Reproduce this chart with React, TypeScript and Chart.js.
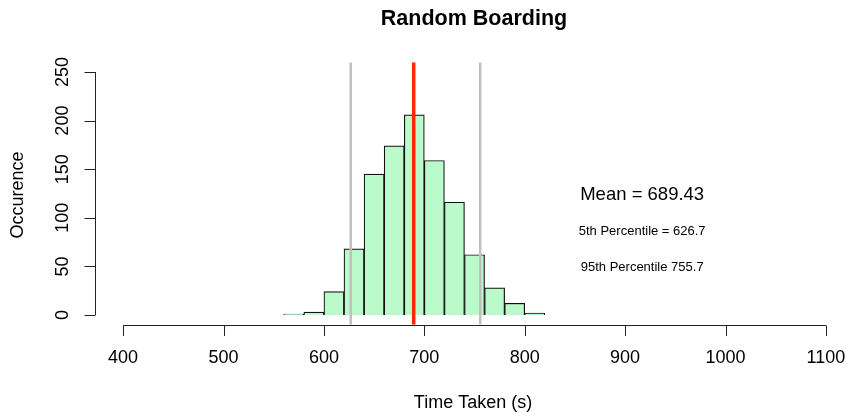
import React, { useEffect, useRef } from "react";
import { Chart, registerables } from "chart.js";

Chart.register(...registerables);

const binCenters = [570, 590, 610, 630, 650, 670, 690, 710, 730, 750, 770, 790, 810];
const binCounts = [1, 3, 24, 68, 145, 174, 206, 159, 116, 62, 28, 12, 2];
const xTicks = [400, 500, 600, 700, 800, 900, 1000, 1100];
const yTicks = [0, 50, 100, 150, 200, 250];
const meanValue = 689.43;
const p5Value = 626.7;
const p95Value = 755.7;
const titleText = "Random Boarding";
const xLabel = "Time Taken (s)";
const yLabel = "Occurence";
const notes = [
  { text: "Mean = 689.43", x: 917, y: 124, size: 18.5 },
  { text: "5th Percentile = 626.7", x: 917, y: 86, size: 13 },
  { text: "95th Percentile 755.7", x: 917, y: 49, size: 13 },
];

const FONT = "'Liberation Sans', Arial, Helvetica, sans-serif";

const rAxesPlugin = {
  id: "rAxes",
  afterDraw(chart: any) {
    const ctx = chart.ctx as CanvasRenderingContext2D;
    const xs = chart.scales.x;
    const ys = chart.scales.y;
    const area = chart.chartArea;
    ctx.save();
    ctx.strokeStyle = "#222";
    ctx.fillStyle = "#000";
    ctx.lineWidth = 1;

    // x axis
    const axY = Math.round(area.bottom) + 0.5;
    ctx.beginPath();
    ctx.moveTo(xs.getPixelForValue(xTicks[0]), axY);
    ctx.lineTo(xs.getPixelForValue(xTicks[xTicks.length - 1]), axY);
    for (const t of xTicks) {
      const px = Math.round(xs.getPixelForValue(t)) + 0.5;
      ctx.moveTo(px, axY);
      ctx.lineTo(px, axY + 10.5);
    }
    ctx.stroke();
    ctx.font = `18px ${FONT}`;
    ctx.textAlign = "center";
    ctx.textBaseline = "middle";
    for (const t of xTicks) {
      ctx.fillText(String(t), xs.getPixelForValue(t), 358);
    }

    // y axis
    const axX = Math.round(area.left) + 0.5;
    ctx.beginPath();
    ctx.moveTo(axX, ys.getPixelForValue(yTicks[0]));
    ctx.lineTo(axX, ys.getPixelForValue(yTicks[yTicks.length - 1]));
    for (const t of yTicks) {
      const py = Math.round(ys.getPixelForValue(t)) + 0.5;
      ctx.moveTo(axX, py);
      ctx.lineTo(axX - 11, py);
    }
    ctx.stroke();
    for (const t of yTicks) {
      ctx.save();
      ctx.translate(63, ys.getPixelForValue(t));
      ctx.rotate(-Math.PI / 2);
      ctx.fillText(String(t), 0, 0);
      ctx.restore();
    }

    // axis titles
    ctx.font = `18px ${FONT}`;
    ctx.fillText(xLabel, 473, 403);
    ctx.save();
    ctx.translate(18, 195);
    ctx.rotate(-Math.PI / 2);
    ctx.fillText(yLabel, 0, 0);
    ctx.restore();

    // main title
    ctx.font = `bold 21.5px ${FONT}`;
    ctx.textBaseline = "alphabetic";
    ctx.fillText(titleText, 474, 25);

    // annotations
    ctx.textBaseline = "middle";
    for (const n of notes) {
      ctx.font = `${n.size}px ${FONT}`;
      ctx.fillText(n.text, xs.getPixelForValue(n.x), ys.getPixelForValue(n.y));
    }
    ctx.restore();
  },
};

export default function App() {
  const ref = useRef<HTMLCanvasElement | null>(null);
  useEffect(() => {
    if (!ref.current) return;
    const vline = (v: number, color: string, w: number) => ({
      type: "line" as const,
      data: [
        { x: v, y: -10 },
        { x: v, y: 260 },
      ],
      borderColor: color,
      borderWidth: w,
      pointRadius: 0,
      fill: false,
      order: 1,
    });
    const chart = new Chart(ref.current, {
      type: "bar",
      data: {
        datasets: [
          {
            type: "bar",
            data: binCenters.map((c, i) => ({ x: c, y: binCounts[i] })),
            backgroundColor: "#bafacb",
            borderColor: "#111",
            borderWidth: 1.2,
            barPercentage: 1,
            categoryPercentage: 1,
            order: 2,
          } as any,
          vline(p5Value, "#c0c0c0", 2.5),
          vline(p95Value, "#c0c0c0", 2.5),
          vline(meanValue, "#ff2500", 3.5),
        ],
      },
      options: {
        responsive: false,
        animation: false,
        devicePixelRatio: 1,
        layout: { padding: { left: 95, right: 0, top: 62.3, bottom: 92.3 } },
        plugins: { legend: { display: false }, tooltip: { enabled: false }, title: { display: false } },
        scales: {
          x: { type: "linear", min: 372, max: 1121, offset: false, display: false },
          y: { type: "linear", min: -10, max: 260, display: false },
        },
      },
      plugins: [rAxesPlugin],
    });
    return () => chart.destroy();
  }, []);
  return (
    <div style={{ position: "absolute", left: 0, top: 0, width: 847, height: 417, background: "#fff" }}>
      <canvas ref={ref} width={847} height={417} />
    </div>
  );
}
